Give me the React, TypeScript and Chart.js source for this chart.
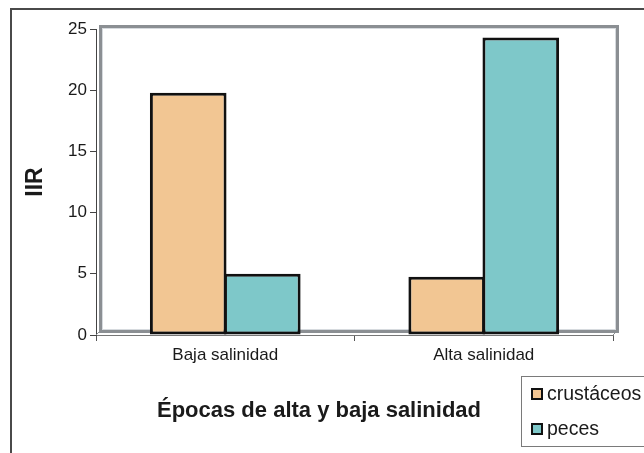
import React, { useEffect, useRef } from 'react';
import { Chart, registerables } from 'chart.js';

Chart.register(...registerables);

const categories = ['Baja salinidad', 'Alta salinidad'];
const seriesNames = ['crustáceos', 'peces'];
const crustaceos = [19.8, 4.75];
const peces = [5.0, 24.3];
const yMin = 0;
const yMax = 25;
const yStep = 5;
const xTitle = 'Épocas de alta y baja salinidad';
const yTitle = 'IIR';
const seriesColors = ['#F2C693', '#7EC8C9'];

const FONT = '"Liberation Sans", Arial, Helvetica, sans-serif';
const W = 644;
const H = 453;

const framePlugin = {
  id: 'frame',
  beforeDraw(chart: any) {
    const ctx = chart.ctx;
    ctx.save();
    ctx.fillStyle = '#ffffff';
    ctx.fillRect(0, 0, W, H);
    ctx.strokeStyle = '#4a4a4a';
    ctx.lineWidth = 2;
    ctx.strokeRect(11, 9, 800, 600);
    ctx.restore();
  },
};

const wallPlugin = {
  id: 'wall',
  beforeDatasetsDraw(chart: any) {
    const { left, top, right, bottom } = chart.chartArea;
    const ctx = chart.ctx;
    ctx.save();
    ctx.strokeStyle = '#8b8f93';
    ctx.lineWidth = 3;
    ctx.strokeRect(left + 4.5, top - 2.5, right - left, bottom - top - 1);
    ctx.strokeStyle = '#d6dade';
    ctx.lineWidth = 1;
    ctx.strokeRect(left + 6.5, top - 0.5, right - left - 4, bottom - top - 5);
    ctx.strokeStyle = '#8b8f93';
    ctx.lineWidth = 1;
    ctx.beginPath();
    ctx.moveTo(left, bottom);
    ctx.lineTo(left + 4, bottom - 4);
    ctx.moveTo(right, bottom);
    ctx.lineTo(right + 4, bottom - 4);
    ctx.stroke();
    ctx.restore();
  },
};

const titleLegendPlugin = {
  id: 'titleLegend',
  afterDraw(chart: any) {
    const ctx = chart.ctx;
    ctx.save();
    // x axis title
    ctx.fillStyle = '#1a1a1a';
    ctx.font = `bold 22px ${FONT}`;
    ctx.textAlign = 'center';
    ctx.textBaseline = 'alphabetic';
    ctx.fillText(xTitle, 319, 417);
    // legend box
    ctx.strokeStyle = '#7a7a7a';
    ctx.lineWidth = 1;
    ctx.strokeRect(521.5, 376.5, 200, 70);
    const ds = chart.data.datasets;
    const ys = [394, 429];
    ctx.font = `19.5px ${FONT}`;
    ctx.textAlign = 'left';
    ctx.textBaseline = 'middle';
    ds.forEach((d: any, i: number) => {
      const y = ys[i];
      ctx.fillStyle = d.backgroundColor;
      ctx.fillRect(531, y - 6, 12, 12);
      ctx.strokeStyle = '#111';
      ctx.lineWidth = 2;
      ctx.strokeRect(532, y - 5, 10, 10);
      ctx.fillStyle = '#1a1a1a';
      ctx.fillText(d.label, 547, y + 1);
    });
    ctx.restore();
  },
};

export default function App() {
  const ref = useRef<HTMLCanvasElement | null>(null);

  useEffect(() => {
    if (!ref.current) return;
    const barCommon = {
      borderColor: '#111111',
      borderWidth: 3,
      borderSkipped: false,
      categoryPercentage: 0.573,
      barPercentage: 1.035,
    };
    const chart = new Chart(ref.current, {
      type: 'bar',
      data: {
        labels: categories,
        datasets: [
          {
            label: seriesNames[0],
            data: crustaceos,
            backgroundColor: seriesColors[0],
            ...barCommon,
          },
          {
            label: seriesNames[1],
            data: peces,
            backgroundColor: seriesColors[1],
            ...barCommon,
          },
        ],
      },
      options: {
        responsive: false,
        animation: false,
        devicePixelRatio: 1,
        layout: { padding: { top: 29, right: 31, left: 0, bottom: 0 } },
        plugins: {
          legend: { display: false },
          tooltip: { enabled: false },
          title: { display: false },
        },
        scales: {
          x: {
            type: 'category',
            offset: true,
            grid: {
              offset: true,
              drawOnChartArea: false,
              drawTicks: true,
              tickLength: 6,
              color: '#555555',
            },
            border: { display: true, color: '#777777', width: 1 },
            ticks: {
              color: '#1a1a1a',
              font: { family: FONT, size: 17 },
              padding: 4,
              maxRotation: 0,
            },
            afterFit(scale: any) {
              scale.height = H - 335;
            },
          },
          y: {
            min: yMin,
            max: yMax,
            ticks: {
              stepSize: yStep,
              color: '#1a1a1a',
              font: { family: FONT, size: 17 },
              padding: 3,
            },
            grid: {
              drawOnChartArea: false,
              drawTicks: true,
              tickLength: 6,
              color: '#444444',
            },
            border: { display: true, color: '#444444', width: 1 },
            title: {
              display: true,
              text: yTitle,
              color: '#1a1a1a',
              font: { family: FONT, size: 23, weight: 'bold' },
              padding: { top: 22, bottom: 0 },
            },
            afterFit(scale: any) {
              scale.width = 96;
            },
          },
        },
      },
      plugins: [framePlugin, wallPlugin, titleLegendPlugin],
    } as any);
    return () => chart.destroy();
  }, []);

  return (
    <div style={{ position: 'absolute', left: 0, top: 0, width: W, height: H, background: '#fff' }}>
      <canvas ref={ref} width={W} height={H} style={{ display: 'block', width: W, height: H }} />
    </div>
  );
}
